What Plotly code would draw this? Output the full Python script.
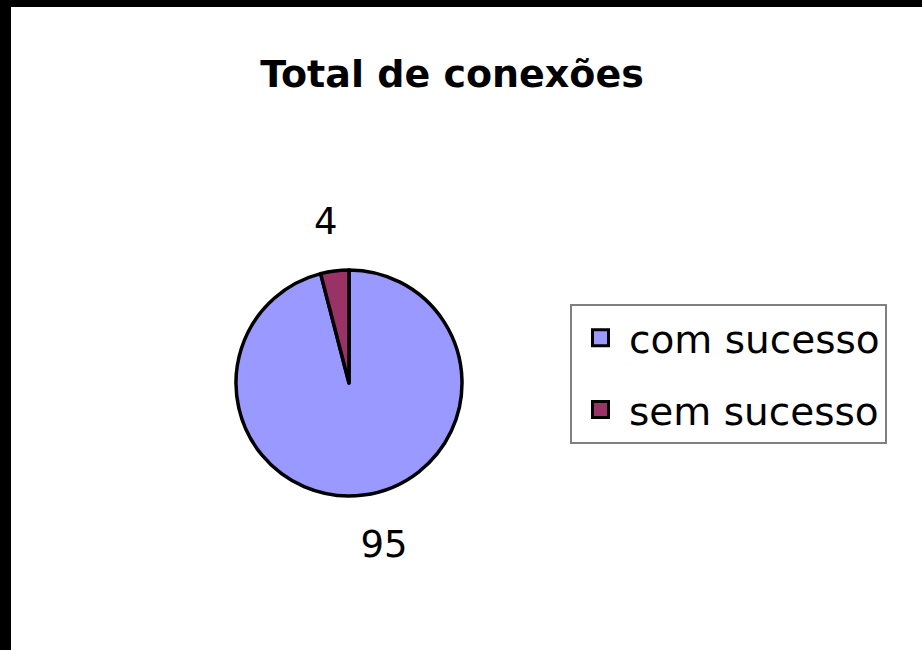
import plotly.graph_objects as go

# ---- data ----
labels = ["com sucesso", "sem sucesso"]
values = [95, 4]
colors = ["#9999FF", "#993366"]
title_text = "Total de conexões"

W, H = 922, 650
FONT = "DejaVu Sans, Arial, sans-serif"

# pie geometry (pixels)
cx, cy, r = 349, 383, 113
r_lab = 140  # radius of the invisible pie that carries the outside labels


def dom(rad):
    return dict(
        x=[(cx - rad) / W, (cx + rad) / W],
        y=[(H - cy - rad) / H, (H - cy + rad) / H],
    )


fig = go.Figure()

# visible pie
fig.add_trace(go.Pie(
    labels=labels, values=values, sort=False, direction="clockwise", rotation=0,
    marker=dict(colors=colors, line=dict(color="black", width=3.5)),
    textinfo="none", showlegend=False, domain=dom(r), hoverinfo="label+value",
))

# invisible, larger pie carrying the value labels
fig.add_trace(go.Pie(
    labels=labels, values=values, sort=False, direction="clockwise", rotation=7,
    marker=dict(colors=["rgba(0,0,0,0)"] * len(values), line=dict(width=0)),
    textinfo="value", textposition="outside",
    outsidetextfont=dict(family=FONT, size=37, color="black"),
    showlegend=False, domain=dom(r_lab), hoverinfo="skip",
))

# legend entries
for lab, col in zip(labels, colors):
    fig.add_trace(go.Scatter(
        x=[None], y=[None], mode="markers", name=lab, legendgroup=lab,
        marker=dict(symbol="square", size=16, color=col,
                    line=dict(color="black", width=3)),
    ))

fig.update_layout(
    width=W, height=H,
    margin=dict(l=0, r=0, t=0, b=0),
    paper_bgcolor="white", plot_bgcolor="white",
    xaxis=dict(visible=False), yaxis=dict(visible=False),
    title=dict(text=title_text, x=452 / W, xanchor="center",
               y=1 - 74 / H, yanchor="middle", yref="container",
               font=dict(family=FONT, size=38, color="black", weight="bold")),
    legend=dict(x=570 / W, y=1 - 304 / H, xanchor="left", yanchor="top",
                bgcolor="white", bordercolor="#808080", borderwidth=2,
                font=dict(family=FONT, size=39, color="black"),
                tracegroupgap=18, itemwidth=47, traceorder="grouped"),
    shapes=[
        dict(type="rect", xref="paper", yref="paper", x0=0, x1=11 / W, y0=0, y1=1,
             fillcolor="black", line=dict(width=0), layer="above"),
        dict(type="rect", xref="paper", yref="paper", x0=0, x1=1, y0=1 - 7 / H, y1=1,
             fillcolor="black", line=dict(width=0), layer="above"),
    ],
)

fig.write_html("out.html", config={"displayModeBar": False},
               post_script="document.body.style.margin='0';")
